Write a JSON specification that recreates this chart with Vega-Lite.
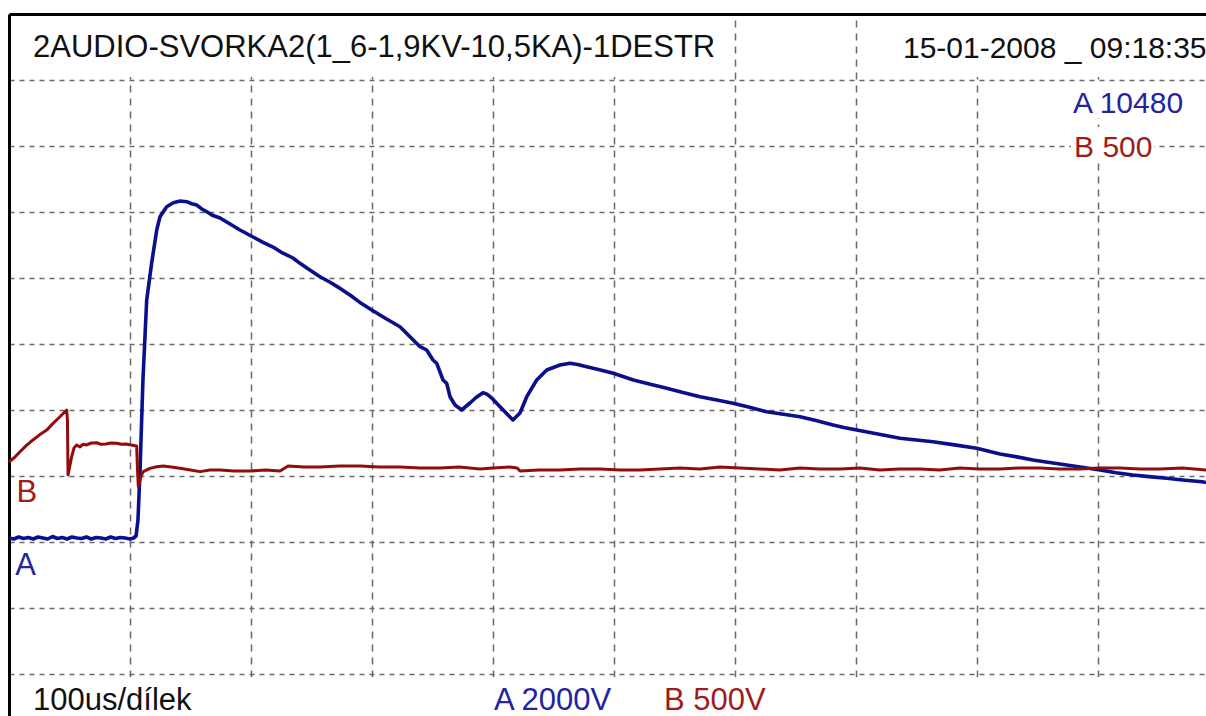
{
  "$schema": "https://vega.github.io/schema/vega-lite/v6.json",
  "width": 1197,
  "height": 702,
  "autosize": {"type": "none"},
  "padding": {"left": 9, "top": 14, "right": 0, "bottom": 0},
  "background": "#ffffff",
  "config": {
    "view": {"stroke": null},
    "text": {"font": "Liberation Sans"},
    "axis": {
      "grid": true, "gridColor": "#6a6a6a", "gridWidth": 1.5,
      "domain": true, "domainColor": "#000000", "domainWidth": 3,
      "ticks": false, "labels": false, "title": null
    },
    "axisX": {"gridDash": [7, 6]},
    "axisY": {"gridDash": [5, 5]}
  },
  "datasets": {
    "channelA": [
      {"t": 0, "v": 121}, {"t": 4, "v": 91}, {"t": 8, "v": 152}, {"t": 12, "v": 106}, {"t": 16, "v": 136},
      {"t": 20, "v": 91}, {"t": 24, "v": 152}, {"t": 28, "v": 121}, {"t": 32, "v": 91}, {"t": 36, "v": 167},
      {"t": 40, "v": 106}, {"t": 44, "v": 136}, {"t": 48, "v": 91}, {"t": 52, "v": 152}, {"t": 56, "v": 121},
      {"t": 60, "v": 106}, {"t": 64, "v": 152}, {"t": 68, "v": 91}, {"t": 72, "v": 136}, {"t": 76, "v": 121},
      {"t": 80, "v": 91}, {"t": 84, "v": 152}, {"t": 88, "v": 106}, {"t": 92, "v": 136}, {"t": 96, "v": 121},
      {"t": 100, "v": 91}, {"t": 103, "v": 121}, {"t": 105, "v": 182}, {"t": 106.6, "v": 667}, {"t": 108.3, "v": 2182},
      {"t": 110.7, "v": 4909}, {"t": 113.8, "v": 7333}, {"t": 117.9, "v": 8455}, {"t": 122.1, "v": 9455}, {"t": 124.8, "v": 9858},
      {"t": 130.3, "v": 10161}, {"t": 135.8, "v": 10282}, {"t": 141.3, "v": 10333}, {"t": 146.9, "v": 10312}, {"t": 151, "v": 10250},
      {"t": 155.1, "v": 10212}, {"t": 159, "v": 10100}, {"t": 163.4, "v": 10009}, {"t": 168, "v": 9900}, {"t": 174.4, "v": 9818},
      {"t": 182, "v": 9650}, {"t": 190.9, "v": 9455}, {"t": 201.7, "v": 9242}, {"t": 210, "v": 9080}, {"t": 218.2, "v": 8939},
      {"t": 226, "v": 8760}, {"t": 234.7, "v": 8606}, {"t": 240.5, "v": 8445}, {"t": 248, "v": 8260}, {"t": 257, "v": 8039},
      {"t": 265, "v": 7880}, {"t": 273, "v": 7700}, {"t": 281.8, "v": 7485}, {"t": 290, "v": 7260}, {"t": 299.8, "v": 7030},
      {"t": 311, "v": 6780}, {"t": 323.1, "v": 6524}, {"t": 331.4, "v": 6221}, {"t": 339.7, "v": 5918}, {"t": 345.2, "v": 5818},
      {"t": 350.4, "v": 5515}, {"t": 353.5, "v": 5415}, {"t": 358.7, "v": 4909}, {"t": 361.7, "v": 4809}, {"t": 364.5, "v": 4403},
      {"t": 368.6, "v": 4152}, {"t": 374.1, "v": 4000}, {"t": 381, "v": 4212}, {"t": 386, "v": 4380}, {"t": 391.7, "v": 4524},
      {"t": 395, "v": 4480}, {"t": 398.9, "v": 4364}, {"t": 405.8, "v": 4100}, {"t": 411.6, "v": 3879}, {"t": 416.5, "v": 3697},
      {"t": 422.3, "v": 3909}, {"t": 427.9, "v": 4403}, {"t": 436.1, "v": 4909}, {"t": 444.4, "v": 5212}, {"t": 455.4, "v": 5364},
      {"t": 463.6, "v": 5415}, {"t": 470, "v": 5380}, {"t": 477.4, "v": 5312}, {"t": 488, "v": 5220}, {"t": 499.4, "v": 5112},
      {"t": 508, "v": 5010}, {"t": 516, "v": 4909}, {"t": 530, "v": 4780}, {"t": 543.6, "v": 4658}, {"t": 557, "v": 4530},
      {"t": 571.1, "v": 4403}, {"t": 585, "v": 4300}, {"t": 598.3, "v": 4203}, {"t": 612, "v": 4080}, {"t": 626.2, "v": 3948},
      {"t": 640, "v": 3870}, {"t": 653.7, "v": 3797}, {"t": 667, "v": 3680}, {"t": 681, "v": 3545}, {"t": 690, "v": 3470},
      {"t": 700.6, "v": 3394}, {"t": 718, "v": 3270}, {"t": 736.4, "v": 3142}, {"t": 750, "v": 3090}, {"t": 763.6, "v": 3039},
      {"t": 780, "v": 2950}, {"t": 799.8, "v": 2839}, {"t": 819, "v": 2667}, {"t": 833, "v": 2580}, {"t": 846.3, "v": 2485},
      {"t": 860, "v": 2410}, {"t": 874.1, "v": 2333}, {"t": 888, "v": 2260}, {"t": 901.7, "v": 2182}, {"t": 915, "v": 2100},
      {"t": 928.9, "v": 2030}, {"t": 942, "v": 1980}, {"t": 956.8, "v": 1930}, {"t": 970, "v": 1880}, {"t": 986, "v": 1827},
      {"t": 989.3, "v": 1800}
    ],
    "channelB": [
      {"t": 0, "v": 106}, {"t": 4.5, "v": 140}, {"t": 9.1, "v": 184}, {"t": 14, "v": 228}, {"t": 19.8, "v": 273},
      {"t": 25, "v": 310}, {"t": 31.2, "v": 348}, {"t": 36, "v": 395}, {"t": 42.1, "v": 449}, {"t": 47.7, "v": 500},
      {"t": 48.3, "v": 424}, {"t": 48.8, "v": 8}, {"t": 49.6, "v": 45}, {"t": 51.8, "v": 146}, {"t": 53.7, "v": 212},
      {"t": 55.9, "v": 235}, {"t": 58.7, "v": 220}, {"t": 61, "v": 240}, {"t": 64.2, "v": 235}, {"t": 68, "v": 250},
      {"t": 72.5, "v": 252}, {"t": 76, "v": 240}, {"t": 80.2, "v": 242}, {"t": 84, "v": 250}, {"t": 89, "v": 248},
      {"t": 93, "v": 240}, {"t": 96.7, "v": 242}, {"t": 101, "v": 235}, {"t": 105.5, "v": 227}, {"t": 106.2, "v": 45},
      {"t": 106.9, "v": -81}, {"t": 109.1, "v": 0}, {"t": 111, "v": 33}, {"t": 116.5, "v": 58}, {"t": 122, "v": 70},
      {"t": 127.5, "v": 76}, {"t": 134, "v": 68}, {"t": 141.3, "v": 58}, {"t": 150, "v": 45}, {"t": 157.9, "v": 33},
      {"t": 166, "v": 45}, {"t": 174.4, "v": 45}, {"t": 186, "v": 38}, {"t": 199.2, "v": 38}, {"t": 212, "v": 45},
      {"t": 224, "v": 38}, {"t": 230.6, "v": 76}, {"t": 244, "v": 68}, {"t": 257, "v": 68}, {"t": 273, "v": 76},
      {"t": 290.1, "v": 76}, {"t": 306, "v": 68}, {"t": 323.1, "v": 68}, {"t": 340, "v": 61}, {"t": 356.2, "v": 61},
      {"t": 372, "v": 68}, {"t": 389.3, "v": 53}, {"t": 400, "v": 61}, {"t": 414, "v": 68}, {"t": 420, "v": 61},
      {"t": 422.3, "v": 38}, {"t": 438, "v": 45}, {"t": 455.4, "v": 45}, {"t": 472, "v": 53}, {"t": 488.4, "v": 53},
      {"t": 505, "v": 45}, {"t": 521.5, "v": 45}, {"t": 538, "v": 53}, {"t": 554.5, "v": 61}, {"t": 571.1, "v": 53},
      {"t": 587.6, "v": 68}, {"t": 604, "v": 61}, {"t": 620.7, "v": 53}, {"t": 637, "v": 45}, {"t": 653.7, "v": 61},
      {"t": 670, "v": 53}, {"t": 686.8, "v": 53}, {"t": 703, "v": 61}, {"t": 719.8, "v": 45}, {"t": 736, "v": 53},
      {"t": 752.9, "v": 53}, {"t": 769, "v": 45}, {"t": 785.9, "v": 61}, {"t": 802, "v": 53}, {"t": 819, "v": 53},
      {"t": 835, "v": 61}, {"t": 852.1, "v": 61}, {"t": 868, "v": 53}, {"t": 885.1, "v": 53}, {"t": 901, "v": 61},
      {"t": 918.2, "v": 61}, {"t": 935, "v": 53}, {"t": 951.2, "v": 53}, {"t": 970, "v": 61}, {"t": 989.3, "v": 45}
    ]
  },
  "resolve": {"scale": {"y": "independent"}},
  "layer": [
    {
      "data": {"values": [{}]},
      "layer": [
        {
          "data": {"name": "channelA"},
          "mark": {"type": "line", "color": "#0a0f8c", "strokeWidth": 3.6, "strokeJoin": "round"},
          "encoding": {
            "x": {"field": "t", "type": "quantitative", "scale": {"domain": [0, 989.26], "nice": false, "zero": false},
                  "axis": {"orient": "top", "values": [100, 200, 300, 400, 500, 600, 700, 800, 900]}},
            "y": {"field": "v", "type": "quantitative", "scale": {"domain": [-5272.7, 16000], "nice": false, "zero": false},
                  "axis": {"orient": "left", "values": [-4000, -2000, 0, 2000, 4000, 6000, 8000, 10000, 12000, 14000]}}
          }
        },
        {
          "mark": {"type": "rect", "color": "#ffffff"},
          "encoding": {
            "x": {"datum": 1.7, "type": "quantitative", "scale": {"domain": [0, 989.26], "nice": false, "zero": false},
                  "axis": {"orient": "top", "values": [100, 200, 300, 400, 500, 600, 700, 800, 900]}},
            "x2": {"datum": 596},
            "y": {"datum": 15939, "type": "quantitative", "scale": {"domain": [-5272.7, 16000], "nice": false, "zero": false},
                  "axis": {"orient": "left", "values": [-4000, -2000, 0, 2000, 4000, 6000, 8000, 10000, 12000, 14000]}},
            "y2": {"datum": 14091}
          }
        },
        {
          "mark": {"type": "rect", "color": "#ffffff"},
          "encoding": {
            "x": {"datum": 730.6, "type": "quantitative", "scale": {"domain": [0, 989.26], "nice": false, "zero": false},
                  "axis": {"orient": "top", "values": [100, 200, 300, 400, 500, 600, 700, 800, 900]}},
            "x2": {"datum": 989.26},
            "y": {"datum": 15939, "type": "quantitative", "scale": {"domain": [-5272.7, 16000], "nice": false, "zero": false},
                  "axis": {"orient": "left", "values": [-4000, -2000, 0, 2000, 4000, 6000, 8000, 10000, 12000, 14000]}},
            "y2": {"datum": 14091}
          }
        },
        {
          "mark": {"type": "rect", "color": "#ffffff"},
          "encoding": {
            "x": {"datum": 876.0, "type": "quantitative", "scale": {"domain": [0, 989.26], "nice": false, "zero": false},
                  "axis": {"orient": "top", "values": [100, 200, 300, 400, 500, 600, 700, 800, 900]}},
            "x2": {"datum": 975.2},
            "y": {"datum": 13879, "type": "quantitative", "scale": {"domain": [-5272.7, 16000], "nice": false, "zero": false},
                  "axis": {"orient": "left", "values": [-4000, -2000, 0, 2000, 4000, 6000, 8000, 10000, 12000, 14000]}},
            "y2": {"datum": 12848}
          }
        },
        {
          "mark": {"type": "rect", "color": "#ffffff"},
          "encoding": {
            "x": {"datum": 877.7, "type": "quantitative", "scale": {"domain": [0, 989.26], "nice": false, "zero": false},
                  "axis": {"orient": "top", "values": [100, 200, 300, 400, 500, 600, 700, 800, 900]}},
            "x2": {"datum": 946.3},
            "y": {"datum": 12576, "type": "quantitative", "scale": {"domain": [-5272.7, 16000], "nice": false, "zero": false},
                  "axis": {"orient": "left", "values": [-4000, -2000, 0, 2000, 4000, 6000, 8000, 10000, 12000, 14000]}},
            "y2": {"datum": 11515}
          }
        },
        {
          "mark": {"type": "rect", "color": "#ffffff"},
          "encoding": {
            "x": {"datum": 1.7, "type": "quantitative", "scale": {"domain": [0, 989.26], "nice": false, "zero": false},
                  "axis": {"orient": "top", "values": [100, 200, 300, 400, 500, 600, 700, 800, 900]}},
            "x2": {"datum": 989.26},
            "y": {"datum": -4100, "type": "quantitative", "scale": {"domain": [-5272.7, 16000], "nice": false, "zero": false},
                  "axis": {"orient": "left", "values": [-4000, -2000, 0, 2000, 4000, 6000, 8000, 10000, 12000, 14000]}},
            "y2": {"datum": -5272.7}
          }
        },
        {
          "mark": {"type": "text", "text": "2AUDIO-SVORKA2(1_6-1,9KV-10,5KA)-1DESTR", "align": "left", "baseline": "alphabetic", "fontSize": 31, "color": "#111111"},
          "encoding": {
            "x": {"datum": 19.8, "type": "quantitative", "scale": {"domain": [0, 989.26], "nice": false, "zero": false},
                  "axis": {"orient": "top", "values": [100, 200, 300, 400, 500, 600, 700, 800, 900]}},
            "y": {"datum": 14697, "type": "quantitative", "scale": {"domain": [-5272.7, 16000], "nice": false, "zero": false},
                  "axis": {"orient": "left", "values": [-4000, -2000, 0, 2000, 4000, 6000, 8000, 10000, 12000, 14000]}}
          }
        },
        {
          "mark": {"type": "text", "text": "15-01-2008 _ 09:18:35", "align": "left", "baseline": "alphabetic", "fontSize": 30, "color": "#111111"},
          "encoding": {
            "x": {"datum": 738.8, "type": "quantitative", "scale": {"domain": [0, 989.26], "nice": false, "zero": false},
                  "axis": {"orient": "top", "values": [100, 200, 300, 400, 500, 600, 700, 800, 900]}},
            "y": {"datum": 14667, "type": "quantitative", "scale": {"domain": [-5272.7, 16000], "nice": false, "zero": false},
                  "axis": {"orient": "left", "values": [-4000, -2000, 0, 2000, 4000, 6000, 8000, 10000, 12000, 14000]}}
          }
        },
        {
          "mark": {"type": "text", "text": "A 10480", "align": "left", "baseline": "alphabetic", "fontSize": 30, "color": "#2424a0"},
          "encoding": {
            "x": {"datum": 879.3, "type": "quantitative", "scale": {"domain": [0, 989.26], "nice": false, "zero": false},
                  "axis": {"orient": "top", "values": [100, 200, 300, 400, 500, 600, 700, 800, 900]}},
            "y": {"datum": 13000, "type": "quantitative", "scale": {"domain": [-5272.7, 16000], "nice": false, "zero": false},
                  "axis": {"orient": "left", "values": [-4000, -2000, 0, 2000, 4000, 6000, 8000, 10000, 12000, 14000]}}
          }
        },
        {
          "mark": {"type": "text", "text": "B 500", "align": "left", "baseline": "alphabetic", "fontSize": 30, "color": "#a01c1c"},
          "encoding": {
            "x": {"datum": 880.2, "type": "quantitative", "scale": {"domain": [0, 989.26], "nice": false, "zero": false},
                  "axis": {"orient": "top", "values": [100, 200, 300, 400, 500, 600, 700, 800, 900]}},
            "y": {"datum": 11667, "type": "quantitative", "scale": {"domain": [-5272.7, 16000], "nice": false, "zero": false},
                  "axis": {"orient": "left", "values": [-4000, -2000, 0, 2000, 4000, 6000, 8000, 10000, 12000, 14000]}}
          }
        },
        {
          "mark": {"type": "text", "text": "B", "align": "left", "baseline": "alphabetic", "fontSize": 31, "color": "#a01c1c"},
          "encoding": {
            "x": {"datum": 6.2, "type": "quantitative", "scale": {"domain": [0, 989.26], "nice": false, "zero": false},
                  "axis": {"orient": "top", "values": [100, 200, 300, 400, 500, 600, 700, 800, 900]}},
            "y": {"datum": 1212, "type": "quantitative", "scale": {"domain": [-5272.7, 16000], "nice": false, "zero": false},
                  "axis": {"orient": "left", "values": [-4000, -2000, 0, 2000, 4000, 6000, 8000, 10000, 12000, 14000]}}
          }
        },
        {
          "mark": {"type": "text", "text": "A", "align": "left", "baseline": "alphabetic", "fontSize": 31, "color": "#2424a0"},
          "encoding": {
            "x": {"datum": 5.2, "type": "quantitative", "scale": {"domain": [0, 989.26], "nice": false, "zero": false},
                  "axis": {"orient": "top", "values": [100, 200, 300, 400, 500, 600, 700, 800, 900]}},
            "y": {"datum": -1000, "type": "quantitative", "scale": {"domain": [-5272.7, 16000], "nice": false, "zero": false},
                  "axis": {"orient": "left", "values": [-4000, -2000, 0, 2000, 4000, 6000, 8000, 10000, 12000, 14000]}}
          }
        },
        {
          "mark": {"type": "text", "text": "100us/dílek", "align": "left", "baseline": "alphabetic", "fontSize": 31, "color": "#111111"},
          "encoding": {
            "x": {"datum": 19.8, "type": "quantitative", "scale": {"domain": [0, 989.26], "nice": false, "zero": false},
                  "axis": {"orient": "top", "values": [100, 200, 300, 400, 500, 600, 700, 800, 900]}},
            "y": {"datum": -5091, "type": "quantitative", "scale": {"domain": [-5272.7, 16000], "nice": false, "zero": false},
                  "axis": {"orient": "left", "values": [-4000, -2000, 0, 2000, 4000, 6000, 8000, 10000, 12000, 14000]}}
          }
        },
        {
          "mark": {"type": "text", "text": "A 2000V", "align": "left", "baseline": "alphabetic", "fontSize": 31, "color": "#2424a0"},
          "encoding": {
            "x": {"datum": 400.8, "type": "quantitative", "scale": {"domain": [0, 989.26], "nice": false, "zero": false},
                  "axis": {"orient": "top", "values": [100, 200, 300, 400, 500, 600, 700, 800, 900]}},
            "y": {"datum": -5091, "type": "quantitative", "scale": {"domain": [-5272.7, 16000], "nice": false, "zero": false},
                  "axis": {"orient": "left", "values": [-4000, -2000, 0, 2000, 4000, 6000, 8000, 10000, 12000, 14000]}}
          }
        },
        {
          "mark": {"type": "text", "text": "B 500V", "align": "left", "baseline": "alphabetic", "fontSize": 31, "color": "#a01c1c"},
          "encoding": {
            "x": {"datum": 541.3, "type": "quantitative", "scale": {"domain": [0, 989.26], "nice": false, "zero": false},
                  "axis": {"orient": "top", "values": [100, 200, 300, 400, 500, 600, 700, 800, 900]}},
            "y": {"datum": -5091, "type": "quantitative", "scale": {"domain": [-5272.7, 16000], "nice": false, "zero": false},
                  "axis": {"orient": "left", "values": [-4000, -2000, 0, 2000, 4000, 6000, 8000, 10000, 12000, 14000]}}
          }
        }
      ]
    },
    {
      "data": {"name": "channelB"},
      "mark": {"type": "line", "color": "#920c0c", "strokeWidth": 3, "strokeJoin": "round"},
      "encoding": {
        "x": {"field": "t", "type": "quantitative", "scale": {"domain": [0, 989.26], "nice": false, "zero": false},
              "axis": {"orient": "top", "values": [100, 200, 300, 400, 500, 600, 700, 800, 900]}},
        "y": {"field": "v", "type": "quantitative", "scale": {"domain": [-1818.2, 3500], "nice": false, "zero": false}, "axis": null}
      }
    }
  ]
}
